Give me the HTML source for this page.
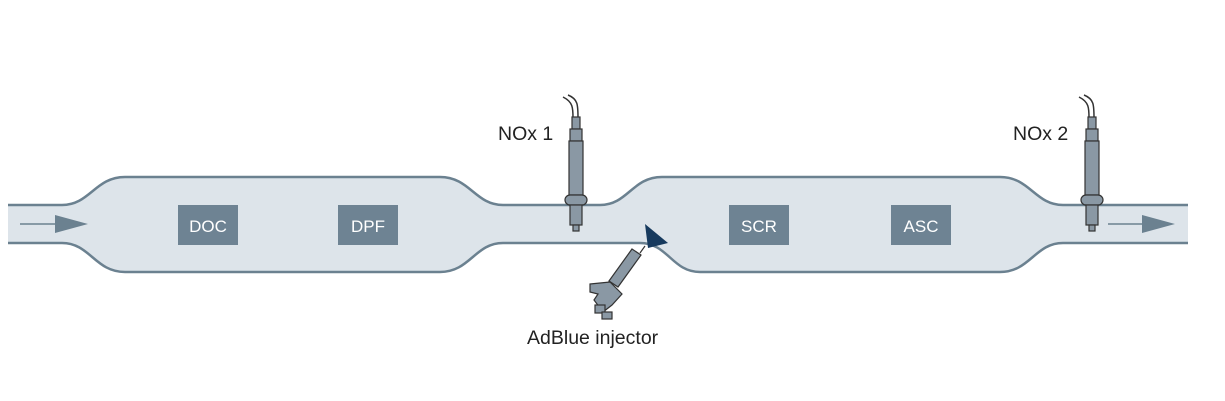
<!DOCTYPE html>
<html><head><style>body{margin:0;background:#fff}svg{display:block}</style></head><body>
<svg width="1225" height="401" viewBox="0 0 1225 401" font-family="Liberation Sans, sans-serif">
<path d="M8,205 L62,205 C90,205 95,177 125,177 L440,177 C470,177 475,205 503,205 L600,205 C628,205 632,177 662,177 L1000,177 C1030,177 1035,205 1063,205 L1188,205 L1188,243 L1063,243 C1035,243 1030,272 1000,272 L700,272 C672,272 668,243 640,243 L503,243 C475,243 470,272 440,272 L125,272 C95,272 90,243 62,243 L8,243 Z" fill="#dde4ea"/>
<path d="M8,205 L62,205 C90,205 95,177 125,177 L440,177 C470,177 475,205 503,205 L600,205 C628,205 632,177 662,177 L1000,177 C1030,177 1035,205 1063,205 L1188,205" fill="none" stroke="#6b8190" stroke-width="2.5"/>
<path d="M8,243 L62,243 C90,243 95,272 125,272 L440,272 C470,272 475,243 503,243 L640,243 C668,243 672,272 700,272 L1000,272 C1030,272 1035,243 1063,243 L1188,243" fill="none" stroke="#6b8190" stroke-width="2.5"/>
<line x1="20" y1="224" x2="58" y2="224" stroke="#6b8190" stroke-width="1.5"/>
<polygon points="55,215 88,224 55,233" fill="#6b8190"/>
<line x1="1108" y1="224" x2="1145" y2="224" stroke="#6b8190" stroke-width="1.5"/>
<polygon points="1142,215 1175,224 1142,233" fill="#6b8190"/>
<g fill="#6e8393"><rect x="178" y="205" width="60" height="40"/><rect x="338" y="205" width="60" height="40"/><rect x="729" y="205" width="60" height="40"/><rect x="891" y="205" width="60" height="40"/></g>
<g fill="#fff" font-size="17" text-anchor="middle"><text x="208" y="232">DOC</text><text x="368" y="232">DPF</text><text x="759" y="232">SCR</text><text x="921" y="232">ASC</text></g>
<defs><g id="s" stroke="#333" stroke-width="1.2" fill="#8a98a4">
<path d="M-8,-128 C2,-124 2,-118 2,-105 M-13,-126 C-3,-121 -3,-115 -3,-105" fill="none" stroke-width="1.5"/>
<rect x="-4" y="-106" width="8" height="12"/><rect x="-6" y="-94" width="12" height="12"/>
<rect x="-7" y="-82" width="14" height="54"/><rect x="-11" y="-28" width="22" height="10" rx="5"/>
<rect x="-6" y="-18" width="12" height="20"/><rect x="-3" y="2" width="6" height="6"/></g></defs>
<use href="#s" x="576" y="223"/><use href="#s" x="1092" y="223"/>
<g stroke="#333" stroke-width="1.2" fill="#8a98a4">
<line x1="640" y1="253" x2="645" y2="246"/>
<polygon points="632,249 641,255 618,287 609,281"/>
<polygon points="590,284 610,282 622,294 612,305 603,312 594,300 598,294 590,292"/>
<rect x="595" y="305" width="10" height="8"/><rect x="602" y="312" width="10" height="7"/></g>
<polygon points="645,224 668,243 648,248" fill="#173a5e"/>
<g fill="#222" font-size="19.5"><text x="498" y="140">NOx 1</text><text x="1013" y="140">NOx 2</text><text x="527" y="344">AdBlue injector</text></g>
</svg></body></html>
